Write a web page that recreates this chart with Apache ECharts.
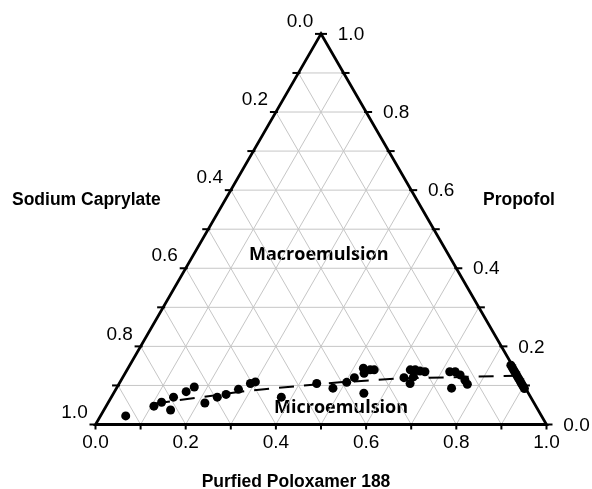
<!DOCTYPE html>
<html><head><meta charset="utf-8">
<script src="https://cdn.jsdelivr.net/npm/echarts@6/dist/echarts.min.js"></script>
<style>html,body{margin:0;padding:0;background:#fff}#c{width:592px;height:489px}</style>
</head><body><div id="c"></div>
<script>
// Ternary compositions: Purified Poloxamer 188 fraction and Propofol fraction
// (Sodium Caprylate = 1 - poloxamer - propofol)
const poloxamer = [0.056,0.106,0.118,0.138,0.148,0.159,0.171,0.215,0.235,0.251,0.272,0.291,0.300,0.377,0.438,0.480,0.503,0.514,0.522,0.530,0.539,0.548,0.555,0.624,0.628,0.639,0.651,0.663,0.644,0.645,0.718,0.730,0.745,0.762,0.773,0.743,
  0.845,0.851,0.857,0.863,0.869,0.875,0.881,0.887,0.893,0.899,0.905];
const propofol = [0.022,0.047,0.057,0.070,0.037,0.084,0.096,0.055,0.070,0.077,0.090,0.105,0.109,0.070,0.105,0.093,0.108,0.120,0.144,0.131,0.140,0.140,0.080,0.120,0.140,0.140,0.137,0.135,0.122,0.105,0.135,0.135,0.127,0.114,0.103,0.093,
  0.152,0.146,0.140,0.134,0.128,0.122,0.116,0.110,0.104,0.098,0.092];
// Phase boundary (dashed)
const boundaryPoloxamer = [0.105,0.299,0.488,0.616,0.875];
const boundaryPropofol = [0.054,0.087,0.108,0.118,0.125];
// Tick labels
const tickValues = [0,0.2,0.4,0.6,0.8,1.0];
const tickLabels = ['0.0','0.2','0.4','0.6','0.8','1.0'];
const axisTitles = ['Sodium Caprylate','Propofol','Purfied Poloxamer 188'];
const regionLabels = ['Macroemulsion','Microemulsion'];

const S3 = Math.sqrt(3)/2;
function tern(p,f){ return [p + f/2, f*S3]; }

const chart = echarts.init(document.getElementById('c'), null, {renderer:'canvas'});
const TICKFONT = '19px "Liberation Sans", Arial, sans-serif';

function frame(params, api){
  const P = (p,f) => api.coord(tern(p,f));
  const ch = [];
  const ln = (a,b,st) => ch.push({type:'line', shape:{x1:a[0],y1:a[1],x2:b[0],y2:b[1]}, style:st});
  const gs = {stroke:'#c6c6c6', lineWidth:1};
  for(let i=1;i<10;i++){
    const v=i/10;
    ln(P(0,v),P(1-v,v),gs);
    ln(P(v,0),P(v,1-v),gs);
    ln(P(1-v,0),P(0,1-v),gs);
  }
  const A=P(0,1), L=P(0,0), R=P(1,0);
  ch.push({type:'polygon', shape:{points:[A,L,R]}, style:{fill:null, stroke:'#000', lineWidth:2.8}});
  const ts = {stroke:'#000', lineWidth:2};
  for(let i=0;i<=10;i++){
    const v=i/10;
    const b=P(v,0); ln([b[0],b[1]],[b[0],b[1]+5],ts);
    const l=P(0,1-v); ln([l[0]-6,l[1]],[l[0]+2,l[1]],ts);
    const r=P(1-v,v); ln([r[0]-2,r[1]],[r[0]+6,r[1]],ts);
  }
  const tx = (x,y,t,font,align) => ch.push({type:'text', x:x, y:y, style:{text:t, font:font, fill:'#000', align:align||'center', verticalAlign:'middle', textAlign:align||'center', textVerticalAlign:'middle'}});
  tickValues.forEach((v,i)=>{
    const b=P(v,0); tx(b[0], b[1]+18, tickLabels[i], TICKFONT);
    const l=P(0,1-v); tx(l[0]-21, l[1]-12, tickLabels[i], TICKFONT);
    const r=P(1-v,v); tx(r[0]+30, r[1]+1, tickLabels[i], TICKFONT);
  });
  return {type:'group', children:ch};
}

chart.setOption({
  animation:false,
  backgroundColor:'#fff',
  grid:{left:95.5, top:33.9, width:451, height:390.6, containLabel:false},
  xAxis:{type:'value', min:0, max:1, show:false},
  yAxis:{type:'value', min:0, max:S3, show:false},
  series:[
    {type:'custom', renderItem:frame, data:[[0.5,0.4]], clip:false, silent:true, z:1},
    {type:'line', data:boundaryPoloxamer.map((p,i)=>tern(p,boundaryPropofol[i])), symbol:'none',
     lineStyle:{color:'#000', width:2, type:[15,10]}, z:2, silent:true},
    {type:'scatter', data:poloxamer.map((p,i)=>tern(p,propofol[i])), symbol:'circle', symbolSize:9,
     itemStyle:{color:'#000', opacity:1}, z:3}
  ],
  graphic:[
    {type:'text', left:12, top:191, style:{text:axisTitles[0], font:'bold 17.5px "Liberation Sans", Arial, sans-serif', fill:'#000'}},
    {type:'text', left:483, top:191, style:{text:axisTitles[1], font:'bold 17.5px "Liberation Sans", Arial, sans-serif', fill:'#000'}},
    {type:'text', left:'center', top:473, style:{text:axisTitles[2], font:'bold 17.5px "Liberation Sans", Arial, sans-serif', fill:'#000'}},
    {type:'text', left:249, top:246, style:{text:regionLabels[0], font:'bold 18px "Open Sans", sans-serif', fill:'#000'}},
    {type:'text', left:274, top:399, style:{text:regionLabels[1], font:'bold 18px "Open Sans", sans-serif', fill:'#000'}}
  ]
});
</script></body></html>
